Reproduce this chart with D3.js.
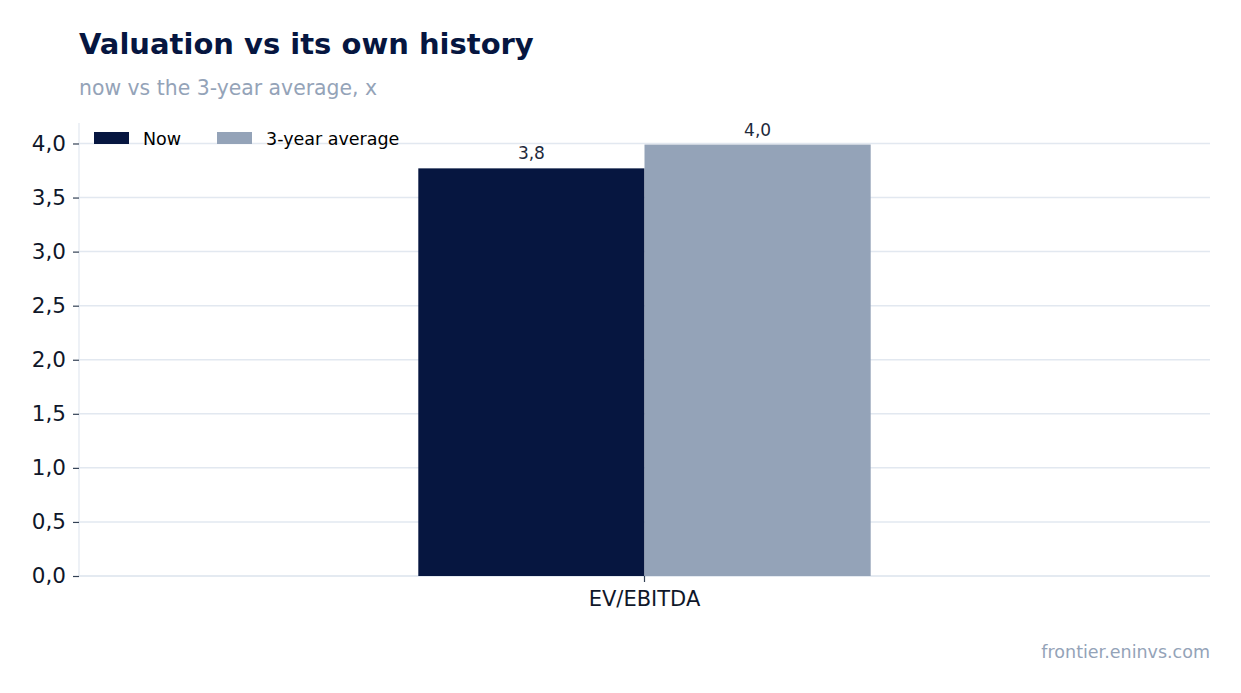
<!DOCTYPE html>
<html>
<head>
<meta charset="utf-8">
<script src="https://cdn.jsdelivr.net/npm/d3@7"></script>
<style>
  body { margin: 0; background: #fff; }
  text { font-family: "DejaVu Sans", sans-serif; }
</style>
</head>
<body>
<div id="chart"></div>
<script>
// chart values
const categories = ["EV/EBITDA"];
const seriesNames = ["Now", "3-year average"];
const nowValues = [3.77];
const avgValues = [3.99];
const valueLabels = [["3,8"], ["4,0"]];
const yTicks = [0, 0.5, 1, 1.5, 2, 2.5, 3, 3.5, 4];

const colors = ["#061640", "#94a3b8"];
const width = 1241, height = 693;
const margin = { top: 123, right: 31, bottom: 117, left: 79 };
const innerW = width - margin.left - margin.right;
const innerH = height - margin.top - margin.bottom;

const svg = d3.select("#chart").append("svg")
  .attr("width", width)
  .attr("height", height);

svg.append("text")
  .attr("x", 79).attr("y", 54)
  .attr("font-size", 29).attr("font-weight", "bold")
  .attr("fill", "#061640")
  .text("Valuation vs its own history");

svg.append("text")
  .attr("x", 79).attr("y", 95)
  .attr("font-size", 20.4)
  .attr("fill", "#94a3b8")
  .text("now vs the 3-year average, x");

svg.append("text")
  .attr("x", 1210).attr("y", 658)
  .attr("text-anchor", "end")
  .attr("font-size", 17.5)
  .attr("fill", "#94a3b8")
  .text("frontier.eninvs.com");

const g = svg.append("g").attr("transform", `translate(${margin.left},${margin.top})`);

const y = d3.scaleLinear().domain([0, 3.99 * 1.05]).range([innerH, 0]);
const x0 = d3.scaleBand().domain(categories).range([0, innerW]).paddingInner(0).paddingOuter(0.75);
const x1 = d3.scaleBand().domain(seriesNames).range([0, x0.bandwidth()]);

// grid
g.append("g").selectAll("line")
  .data(yTicks)
  .join("line")
  .attr("x1", 0).attr("x2", innerW)
  .attr("y1", d => y(d)).attr("y2", d => y(d))
  .attr("stroke", "#e2e8f0").attr("stroke-width", 1.5);

// spines
g.append("line").attr("x1", 0).attr("x2", 0).attr("y1", 0).attr("y2", innerH)
  .attr("stroke", "#e2e8f0").attr("stroke-width", 1.2);
g.append("line").attr("x1", 0).attr("x2", innerW).attr("y1", innerH).attr("y2", innerH)
  .attr("stroke", "#e2e8f0").attr("stroke-width", 1.5);

const series = [nowValues, avgValues];
series.forEach((vals, si) => {
  g.append("g").selectAll("rect")
    .data(vals)
    .join("rect")
    .attr("x", (d, i) => x0(categories[i]) + x1(seriesNames[si]))
    .attr("width", x1.bandwidth())
    .attr("y", d => y(d))
    .attr("height", d => innerH - y(d))
    .attr("fill", colors[si]);
  g.append("g").selectAll("text")
    .data(vals)
    .join("text")
    .attr("x", (d, i) => x0(categories[i]) + x1(seriesNames[si]) + x1.bandwidth() / 2)
    .attr("y", d => y(d) - 9)
    .attr("text-anchor", "middle")
    .attr("font-size", 17)
    .attr("fill", "#1e293b")
    .text((d, i) => valueLabels[si][i]);
});

// axes
const yAxis = g.append("g")
  .call(d3.axisLeft(y).tickValues(yTicks).tickSize(6).tickPadding(7)
    .tickFormat(d => d3.format(".1f")(d).replace(".", ",")));
yAxis.select(".domain").remove();
yAxis.selectAll(".tick line").attr("stroke", "#334155").attr("stroke-width", 1.2);
yAxis.selectAll(".tick text").attr("font-size", 21.5).attr("fill", "#0f172a")
  .attr("font-family", "DejaVu Sans, sans-serif");

const xAxis = g.append("g")
  .attr("transform", `translate(0,${innerH})`)
  .call(d3.axisBottom(x0).tickSize(6).tickPadding(9));
xAxis.select(".domain").remove();
xAxis.selectAll(".tick line").attr("stroke", "#334155").attr("stroke-width", 1.2);
xAxis.selectAll(".tick text").attr("font-size", 21).attr("fill", "#0f172a")
  .attr("font-family", "DejaVu Sans, sans-serif");

// legend
const legend = g.append("g").attr("transform", "translate(15,9)");
const legX = [0, 123];
seriesNames.forEach((name, i) => {
  const item = legend.append("g").attr("transform", `translate(${legX[i]},0)`);
  item.append("rect").attr("width", 35).attr("height", 12).attr("fill", colors[i]);
  item.append("text").attr("x", 49).attr("y", 12.5).attr("font-size", 17.5)
    .attr("fill", "#000").text(name);
});
</script>
</body>
</html>
